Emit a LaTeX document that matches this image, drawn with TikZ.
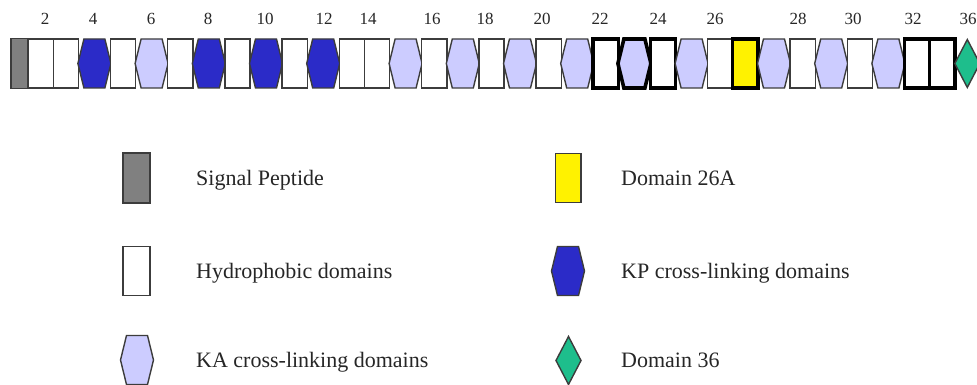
\documentclass[tikz,border=0pt]{standalone}
\usepackage{fontspec}
\setmainfont{Liberation Serif}
\definecolor{kpblue}{RGB}{43,43,200}
\definecolor{kalav}{RGB}{204,204,255}
\definecolor{sigray}{RGB}{128,128,128}
\definecolor{greenthirtysix}{RGB}{30,190,140}
\definecolor{edgegray}{RGB}{60,60,60}
\begin{document}
\begin{tikzpicture}
		[x=1pt,y=-1pt,
		dom/.style={draw=edgegray,line width=1.4pt},
		thin domain/.style={dom/.style={draw=edgegray,line width=1.4pt}},
		thick domain/.style={dom/.style={draw=black,line width=3.6pt}},
		num/.style={font=\fontsize{17}{20}\selectfont,text=black!85,anchor=base,inner sep=0pt},
		key/.style={font=\fontsize{22}{26}\selectfont,text=black!85,anchor=base west,inner sep=0pt},
		hyd/.pic={\path[dom,fill=white] (-12.6,-24.5) rectangle (12.6,24.5);},
		sig/.pic={\path[dom,fill=sigray] (-13.5,-25) rectangle (13.5,25);},
		yel/.pic={\path[dom,fill=yellow] (-12.8,-24.5) rectangle (12.8,24.5);},
		ka/.pic={\path[dom,fill=kalav] (-16.5,0) -- (-10.5,-24.5) -- (10.5,-24.5) -- (16.5,0) -- (10.5,24.5) -- (-10.5,24.5) -- cycle;},
		kp/.pic={\path[dom,fill=kpblue] (-16.5,0) -- (-10.5,-24.5) -- (10.5,-24.5) -- (16.5,0) -- (10.5,24.5) -- (-10.5,24.5) -- cycle;},
		dia/.pic={\path[dom,fill=greenthirtysix] (-12.5,0) -- (0,-24) -- (12.5,0) -- (0,24) -- cycle;}
	]
		\clip (0,0) rectangle (977,385);
		\pic[xscale=0.63] at (19.5,63.5) {sig};
		\foreach \cx/\kind/\look in {40.6/hyd/thin, 65.8/hyd/thin, 94.4/kp/thin, 123.0/hyd/thin,
			151.6/ka/thin, 180.2/hyd/thin, 208.8/kp/thin, 237.4/hyd/thin, 266.0/kp/thin,
			294.6/hyd/thin, 323.2/kp/thin, 351.8/hyd/thin, 377.0/hyd/thin, 405.6/ka/thin,
			434.2/hyd/thin, 462.8/ka/thin, 491.4/hyd/thin, 520.0/ka/thin, 548.6/hyd/thin,
			577.2/ka/thin, 605.8/hyd/thick, 634.4/ka/thick,
			663.0/hyd/thick, 691.6/ka/thin, 720.2/hyd/thin, 745.4/yel/thick,
			774.0/ka/thin, 802.6/hyd/thin, 831.2/ka/thin, 859.8/hyd/thin, 888.4/ka/thin,
			917.0/hyd/thick, 942.2/hyd/thick, 967.3/dia/thin}
			\pic[\look\space domain] at (\cx,63.5) {\kind};
		\foreach \n/\cx in {2/45, 4/93, 6/151, 8/208, 10/265, 12/324, 14/368, 16/432,
			18/485, 20/542, 22/600, 24/658, 26/715, 28/798, 30/853, 32/913, 36/968}
			\node[num] (n\n) at (\cx,25) {\n};
		\pic at (136.5,178) {sig};
		\node[key] (signal) at (196,185) {Signal Peptide};
		\pic[xscale=1.07] at (136.5,271) {hyd};
		\node[key] (hydro) at (196,278) {Hydrophobic domains};
		\pic at (137,360) {ka};
		\node[key] (ka) at (196,367) {KA cross-linking domains};
		\pic at (568,178) {yel};
		\node[key] (d26a) at (621,185) {Domain 26A};
		\pic at (568,271) {kp};
		\node[key] (kp) at (621,278) {KP cross-linking domains};
		\pic at (568.5,360.5) {dia};
		\node[key] (d36) at (621,367) {Domain 36};
	\end{tikzpicture}
\end{document}
